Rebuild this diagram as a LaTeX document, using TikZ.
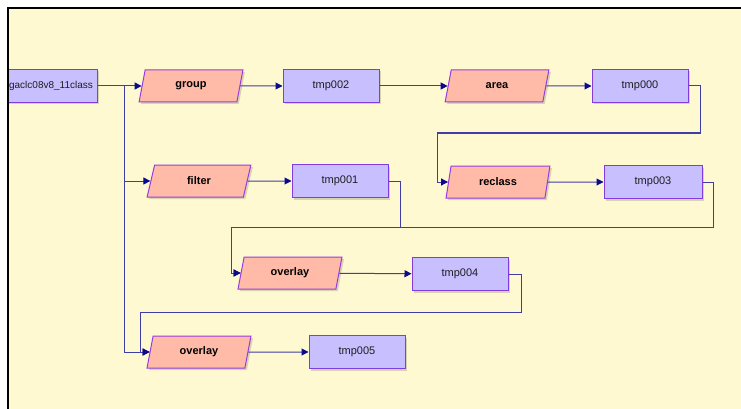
\documentclass[tikz,border=0pt]{standalone}
\usepackage{fontspec}
\setmainfont{Liberation Sans}
\usetikzlibrary{shapes.geometric,arrows.meta,shadows}
\definecolor{cream}{RGB}{255,249,210}
\definecolor{boxfill}{RGB}{200,191,255}
\definecolor{boxline}{RGB}{128,60,222}
\definecolor{parafill}{RGB}{255,187,168}
\definecolor{paraline}{RGB}{150,60,225}
\definecolor{linecol}{RGB}{62,62,168}
\definecolor{arrowcol}{RGB}{10,10,140}
\definecolor{textcol}{RGB}{30,30,30}
\begin{document}
\begin{tikzpicture}[x=1pt,y=-1pt,
  shade/.style={drop shadow={shadow xshift=2pt,shadow yshift=-2pt,fill=black,opacity=0.15}},
  box/.style={draw=boxline,fill=boxfill,line width=1pt,minimum width=96pt,minimum height=33pt,
    inner sep=0pt,font=\fontsize{11}{13}\selectfont,text=textcol,shade},
  para/.style={trapezium,trapezium left angle=76,trapezium right angle=104,trapezium stretches=true,
    draw=paraline,fill=parafill,line width=1pt,minimum width=104pt,minimum height=32pt,
    inner sep=0pt,font=\bfseries\fontsize{11}{13}\selectfont,text=black,shade},
  conn/.style={draw=linecol,line width=1pt,-{Triangle[length=7pt,width=7pt,color=arrowcol]}},
  link/.style={draw=linecol,line width=1pt}]
\useasboundingbox (0,0) rectangle (741,409);
\fill[white] (0,0) rectangle (741,409);
\fill[cream] (9,9) rectangle (741,409);
\begin{scope}
\clip (9,9) rectangle (741,409);
% nodes
\node[box] (gaclc) at (49,86) {};
\node[font=\fontsize{10}{12}\selectfont,text=textcol,inner sep=0pt] (gacltext) at (51,86) {gaclc08v8\_11class};
\node[para] (group) at (191,86) {group};
\node[box] (tmp002) at (331,86) {tmp002};
\node[para] (area) at (497,86) {area};
\node[box] (tmp000) at (640,86) {tmp000};
\node[para] (filter) at (199,181) {filter};
\node[box] (tmp001) at (340,181) {tmp001};
\node[para] (reclass) at (498,182) {reclass};
\node[box,minimum width=98pt] (tmp003) at (653,182) {tmp003};
\node[para] (ov1) at (290,273) {overlay};
\node[box] (tmp004) at (460,274) {tmp004};
\node[para] (ov2) at (199,352) {overlay};
\node[box] (tmp005) at (357,352) {tmp005};
% routing points
\coordinate (split) at (124,86);
\coordinate (a1) at (700,133);
\coordinate (a2) at (437,133);
\coordinate (b1) at (713,227);
\coordinate (b2) at (400,227);
\coordinate (b3) at (231,227);
\coordinate (d1) at (521,312);
\coordinate (d2) at (140,312);
% connectors
\draw[conn] (gaclc) -- (group);
\draw[conn] (split) |- (filter);
\draw[conn] (split) |- (ov2);
\draw[conn] (group) -- (tmp002);
\draw[conn] (tmp002) -- (area);
\draw[conn] (area) -- (tmp000);
\draw[conn] (tmp000.east) -| (a1) -- (a2) |- (reclass);
\draw[conn] (reclass) -- (tmp003);
\draw[conn] (filter) -- (tmp001);
\draw[conn] (tmp003.east) -| (b1) -- (b3) |- (ov1);
\draw[conn] (tmp001.east) -| (b2) -- (b3) |- (ov1);
\draw[conn] (ov1) -- (tmp004);
\draw[conn] (tmp004.east) -| (d1) -- (d2) |- (ov2);
\draw[conn] (ov2) -- (tmp005);
\end{scope}
\draw[black,line width=2.5pt] (8,409) -- (8,8) -- (741,8);
\end{tikzpicture}
\end{document}
